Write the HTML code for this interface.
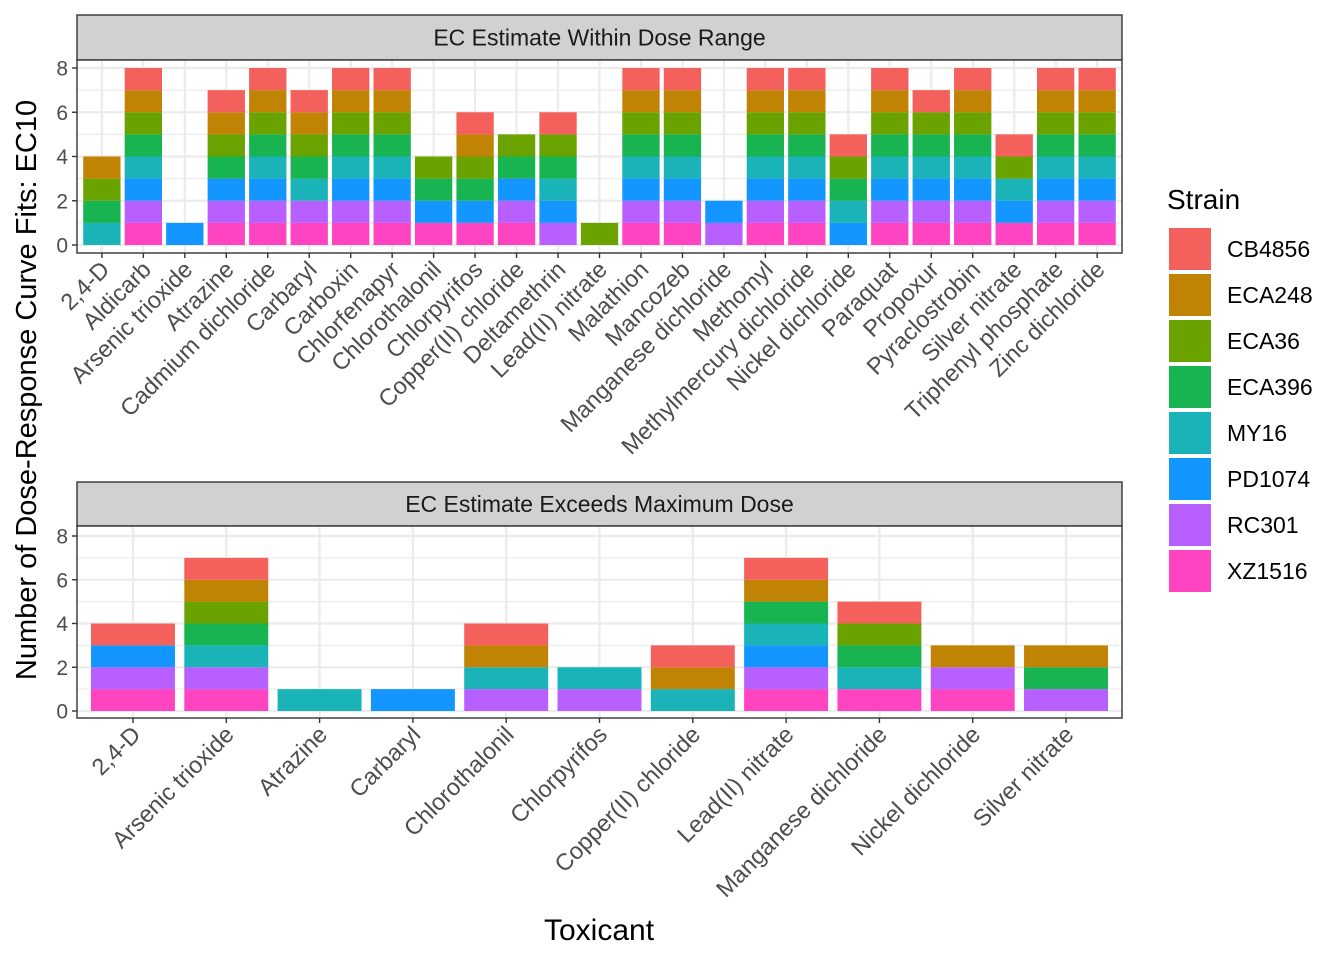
<!DOCTYPE html>
<html><head><meta charset="utf-8"><style>
html,body{margin:0;padding:0;background:#fff;}
svg{display:block;font-family:"Liberation Sans",Arial,sans-serif;}
</style></head><body>
<svg id="chart" width="1344" height="960" viewBox="0 0 1344 960" xmlns="http://www.w3.org/2000/svg"></svg>
<script>
const strains = ["CB4856","ECA248","ECA36","ECA396","MY16","PD1074","RC301","XZ1516"];
const colors = ["#F4605C","#C08304","#6AA300","#18B451","#19B3B8","#1396FF","#B760FF","#FF44C2"];
const yTicks = [0,2,4,6,8];

const topCategories = ["2,4-D","Aldicarb","Arsenic trioxide","Atrazine","Cadmium dichloride","Carbaryl","Carboxin","Chlorfenapyr","Chlorothalonil","Chlorpyrifos","Copper(II) chloride","Deltamethrin","Lead(II) nitrate","Malathion","Mancozeb","Manganese dichloride","Methomyl","Methylmercury dichloride","Nickel dichloride","Paraquat","Propoxur","Pyraclostrobin","Silver nitrate","Triphenyl phosphate","Zinc dichloride"];
const topCB4856 = [0,1,0,1,1,1,1,1,0,1,0,1,0,1,1,0,1,1,1,1,1,1,1,1,1];
const topECA248 = [1,1,0,1,1,1,1,1,0,1,0,0,0,1,1,0,1,1,0,1,0,1,0,1,1];
const topECA36  = [1,1,0,1,1,1,1,1,1,1,1,1,1,1,1,0,1,1,1,1,1,1,1,1,1];
const topECA396 = [1,1,0,1,1,1,1,1,1,1,1,1,0,1,1,0,1,1,1,1,1,1,0,1,1];
const topMY16   = [1,1,0,0,1,1,1,1,0,0,0,1,0,1,1,0,1,1,1,1,1,1,1,1,1];
const topPD1074 = [0,1,1,1,1,0,1,1,1,1,1,1,0,1,1,1,1,1,1,1,1,1,1,1,1];
const topRC301  = [0,1,0,1,1,1,1,1,0,0,1,1,0,1,1,1,1,1,0,1,1,1,0,1,1];
const topXZ1516 = [0,1,0,1,1,1,1,1,1,1,1,0,0,1,1,0,1,1,0,1,1,1,1,1,1];

const botCategories = ["2,4-D","Arsenic trioxide","Atrazine","Carbaryl","Chlorothalonil","Chlorpyrifos","Copper(II) chloride","Lead(II) nitrate","Manganese dichloride","Nickel dichloride","Silver nitrate"];
const botCB4856 = [1,1,0,0,1,0,1,1,1,0,0];
const botECA248 = [0,1,0,0,1,0,1,1,0,1,1];
const botECA36  = [0,1,0,0,0,0,0,0,1,0,0];
const botECA396 = [0,1,0,0,0,0,0,1,1,0,1];
const botMY16   = [0,1,1,0,1,1,1,1,1,0,0];
const botPD1074 = [1,0,0,1,0,0,0,1,0,0,0];
const botRC301  = [1,1,0,0,1,1,0,1,0,1,1];
const botXZ1516 = [1,1,0,0,0,0,0,1,1,1,0];

const topSeries = [topCB4856,topECA248,topECA36,topECA396,topMY16,topPD1074,topRC301,topXZ1516];
const botSeries = [botCB4856,botECA248,botECA36,botECA396,botMY16,botPD1074,botRC301,botXZ1516];

const NS="http://www.w3.org/2000/svg";
const svg=document.getElementById('chart');
function mk(tag,attrs,parent){const e=document.createElementNS(NS,tag);for(const k in attrs)e.setAttribute(k,attrs[k]);(parent||svg).appendChild(e);return e;}

function panel(cfg){
  const {categories,series,x0,x1,stripTop,pTop,pBot,y0px,y8px,title,key}=cfg;
  const g=mk('g',{});
  
  
  const n=categories.length;
  const unit=(x1-x0)/(n+0.2);
  const xs=i=>x0+(0.6+i)*unit;
  const ys=v=>y0px+(y8px-y0px)*v/8;
  const strip=mk('rect',{x:x0,y:stripTop,width:x1-x0,height:pTop-stripTop,fill:'#D1D1D1',stroke:'#333',"stroke-width":1.4},g);
  
  
  const st=mk('text',{x:(x0+x1)/2,y:(stripTop+pTop)/2+8,"text-anchor":"middle","font-size":"23","fill":"#1A1A1A"},g);
  st.textContent=title;
  
  
  mk('rect',{x:x0,y:pTop,width:x1-x0,height:pBot-pTop,fill:'#fff'},g);
  for(let v=1;v<8;v+=2){mk('line',{x1:x0,x2:x1,y1:ys(v),y2:ys(v),stroke:'#EBEBEB',"stroke-width":1.2},g);}
  yTicks.forEach(v=>{mk('line',{x1:x0,x2:x1,y1:ys(v),y2:ys(v),stroke:'#EBEBEB',"stroke-width":2.2},g);});
  categories.forEach((c,i)=>{mk('line',{x1:xs(i),x2:xs(i),y1:pTop,y2:pBot,stroke:'#EBEBEB',"stroke-width":2.2},g);});
  const bw=unit*0.9;
  categories.forEach((c,i)=>{
    let cum=0;
    for(let s=strains.length-1;s>=0;s--){
      const v=series[s][i];
      if(!v)continue;
      const r=mk('rect',{x:xs(i)-bw/2,y:ys(cum+v),width:bw,height:ys(cum)-ys(cum+v),fill:colors[s]},g);
      
      
      cum+=v;
    }
  });
  mk('rect',{x:x0,y:pTop,width:x1-x0,height:pBot-pTop,fill:'none',stroke:'#333',"stroke-width":1.4},g);
  yTicks.forEach(v=>{
    mk('line',{x1:x0-5,x2:x0,y1:ys(v),y2:ys(v),stroke:'#333',"stroke-width":1.4},g);
    const t=mk('text',{x:x0-9,y:ys(v)+7.5,"text-anchor":"end","font-size":"21","fill":"#4D4D4D"},g);
    t.textContent=v;
    
    
  });
  categories.forEach((c,i)=>{
    mk('line',{x1:xs(i),x2:xs(i),y1:pBot,y2:pBot+5,stroke:'#333',"stroke-width":1.4},g);
    const tx=xs(i)+9, ty=pBot+18;
    const t=mk('text',{x:tx,y:ty,"text-anchor":"end","font-size":"23.5","fill":"#4D4D4D",transform:`rotate(-45 ${tx} ${ty})`},g);
    t.textContent=c;
    
    
  });
}
panel({categories:topCategories,series:topSeries,x0:77,x1:1122,stripTop:15,pTop:60,pBot:253,y0px:245,y8px:68,title:"EC Estimate Within Dose Range",key:'within-range'});
panel({categories:botCategories,series:botSeries,x0:77,x1:1122,stripTop:482,pTop:526,pBot:718,y0px:711,y8px:536,title:"EC Estimate Exceeds Maximum Dose",key:'exceeds-max'});

const yt=mk('text',{x:36,y:390,"text-anchor":"middle","font-size":"29",fill:"#000",transform:"rotate(-90 36 390)"});
yt.textContent="Number of Dose-Response Curve Fits: EC10";


const xt=mk('text',{x:599,y:940,"text-anchor":"middle","font-size":"30",fill:"#000"});
xt.textContent="Toxicant";



const lg=mk('g',{});


const lt=mk('text',{x:1167,y:209,"font-size":"28",fill:"#000"},lg);
lt.textContent="Strain";


strains.forEach((s,i)=>{
  const y=228+i*46;
  const r=mk('rect',{x:1169,y:y,width:42,height:42,fill:colors[i]},lg);
  
  
  const t=mk('text',{x:1227,y:y+29,"font-size":"23",fill:"#000"},lg);
  t.textContent=s;
  
  
});
</script>
</body></html>
